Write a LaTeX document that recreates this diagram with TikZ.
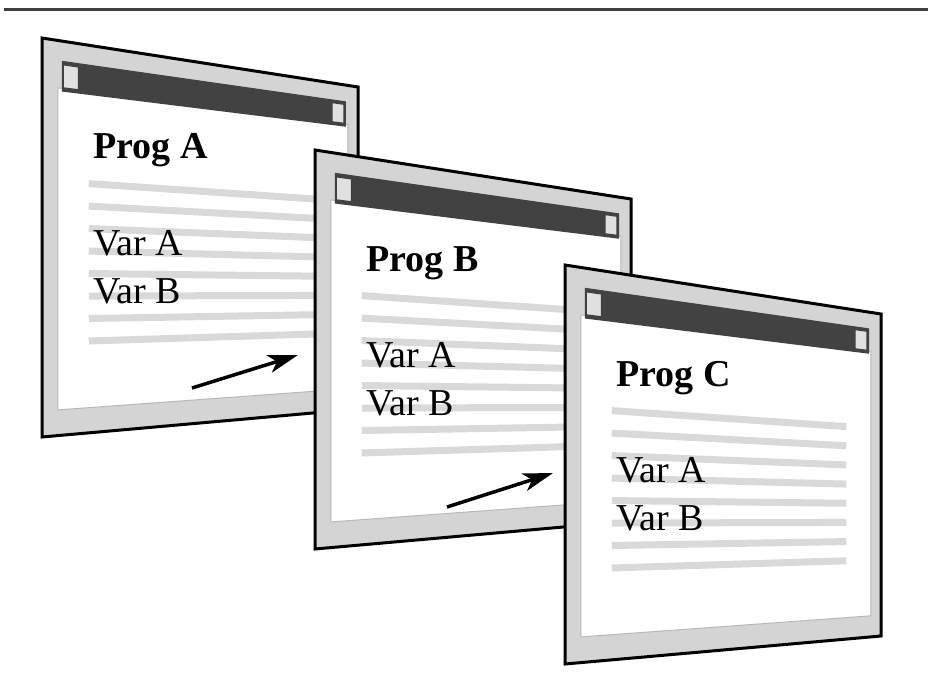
\documentclass[tikz,border=0pt]{standalone}
\usepackage{fontspec}
\setmainfont{Liberation Serif}
\usetikzlibrary{arrows.meta}
% bilinear (perspective-like) point inside a window: u across, v down
\newcommand\uv[2]{({316*(#1)},{49*(#1)+(#2)*(399-77*(#1))})}
\tikzset{
  winouter/.style={fill=black!17, draw=black, line width=3pt, line join=miter},
  wininner/.style={fill=white, draw=black!28, line width=1pt},
  titlebar/.style={fill=black!74},
  tbbox/.style={fill=black!12, draw=black!75, line width=1pt},
  txtbar/.style={draw=black!15, line width=7pt},
  lbl/.style={anchor=base west, inner sep=0pt, font=\fontsize{38}{40}\selectfont},
  ttl/.style={anchor=base west, inner sep=0pt, font=\fontsize{38}{40}\selectfont\bfseries},
  flow/.style={line width=3.5pt, arrows={-Stealth[length=30pt,width=18pt,inset=8pt]}},
  rule/.style={draw=black!75, line width=3pt},
}
\newcommand\drawwin[3]{%
\begin{scope}[shift={#1}]
  \draw[winouter] \uv{0}{0} -- \uv{1}{0} -- \uv{1}{1} -- \uv{0}{1} -- cycle;
  \draw[wininner] \uv{0.05}{0.12} -- \uv{0.968}{0.12} -- \uv{0.968}{0.935} -- \uv{0.05}{0.935} -- cycle;
  \fill[titlebar] \uv{0.063}{0.05} -- \uv{0.962}{0.05} -- \uv{0.962}{0.128} -- \uv{0.063}{0.128} -- cycle;
  \draw[tbbox] \uv{0.068}{0.06} -- \uv{0.115}{0.06} -- \uv{0.115}{0.118} -- \uv{0.068}{0.118} -- cycle;
  \draw[tbbox] \uv{0.918}{0.06} -- \uv{0.955}{0.06} -- \uv{0.955}{0.118} -- \uv{0.918}{0.118} -- cycle;
  \foreach \k in {0,...,7}{
    \draw[txtbar] \uv{0.148}{0.357+0.058*\k} -- \uv{0.89}{0.357+0.058*\k};
  }
  \node[ttl] (#2-title) at (51,121) {Prog #3};
  \node[lbl] (#2-vara) at (51,217) {Var A};
  \node[lbl] (#2-varb) at (51,265) {Var B};
\end{scope}}
\begin{document}
\begin{tikzpicture}[x=1pt,y=-1pt]
  \useasboundingbox (0,0) rectangle (928,695);
  \fill[white] (0,0) rectangle (928,695);
  \coordinate (ruleL) at (4,9.5);
  \coordinate (ruleR) at (928,9.5);
  \draw[rule] (ruleL) -- (ruleR);
  % window A
  \drawwin{(42,38)}{wa}{A}
  \coordinate (a1s) at (192,388);
  \coordinate (a1e) at (298,355);
  \draw[flow] (a1s) -- (a1e);
  % window B
  \drawwin{(315,150)}{wb}{B}
  \coordinate (a2s) at (447,507);
  \coordinate (a2e) at (553,473);
  \draw[flow] (a2s) -- (a2e);
  % window C
  \drawwin{(565,265)}{wc}{C}
\end{tikzpicture}
\end{document}
